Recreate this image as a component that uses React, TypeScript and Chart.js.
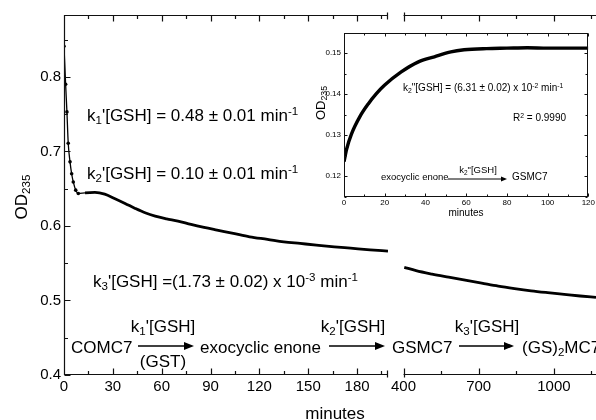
import React, { useEffect, useRef } from 'react';
import { Chart, registerables } from 'chart.js';

Chart.register(...registerables);

// ---------- data ----------
const leftMinutes = [0, 1, 1.8, 2.6, 3.7, 4.7, 5.7, 7.2, 8.8, 12.9, 19, 25, 31, 37.5, 43.7, 49.8, 56, 63, 70, 78, 86, 94, 104, 114, 125, 135, 145, 155, 166, 176, 188, 199];
const leftOD = [0.841, 0.79, 0.753, 0.711, 0.686, 0.67, 0.659, 0.648, 0.6436, 0.6444, 0.6449, 0.6426, 0.6369, 0.6302, 0.6235, 0.6176, 0.6131, 0.6095, 0.6065, 0.602, 0.598, 0.5944, 0.59, 0.5854, 0.582, 0.5787, 0.5765, 0.5743, 0.572, 0.5702, 0.568, 0.5662];
const rightMinutes = [403, 450, 514, 580, 646, 712, 778, 843, 909, 975, 1041, 1105, 1168];
const rightOD = [0.5445, 0.54, 0.5354, 0.5313, 0.5273, 0.5233, 0.5193, 0.516, 0.513, 0.5105, 0.5082, 0.506, 0.5042];
const insetMinutes = [0, 1.3, 3.7, 7.8, 11.9, 15.9, 20, 28.1, 36.3, 44.4, 52.5, 59, 70, 80, 90, 100, 110, 120];
const insetOD = [0.1235, 0.1266, 0.1303, 0.1345, 0.1376, 0.1401, 0.1422, 0.1454, 0.1478, 0.1491, 0.1503, 0.1508, 0.1511, 0.1512, 0.1513, 0.1512, 0.1512, 0.1512];

const leftXTicks = [0, 30, 60, 90, 120, 150, 180];
const leftXMinor = [15, 45, 75, 105, 135, 165, 195];
const rightXTicks = [400, 700, 1000];
const rightXMinor = [550, 850, 1150];
const mainYTicks = [0.4, 0.5, 0.6, 0.7, 0.8];
const mainYMinor = [0.45, 0.55, 0.65, 0.75, 0.85];
const insetXTicks = [0, 20, 40, 60, 80, 100, 120];
const insetXMinor = [10, 30, 50, 70, 90, 110];
const insetYTicks = [0.12, 0.13, 0.14, 0.15];
const insetYMinor = [0.115, 0.125, 0.135, 0.145];

const F = "'Liberation Sans', Arial, Helvetica, sans-serif";

// ---------- frame / inward tick plugin (per chart, closure config) ----------
function makeFrame(o: any) {
  return {
    id: 'frame',
    afterDraw(chart: any) {
      const { ctx, chartArea: a, scales } = chart;
      const L = Math.round(a.left) + 0.5, R = Math.round(a.right) - 0.5;
      const T = Math.round(a.top) + 0.5, B = Math.round(a.bottom) - 0.5;
      const xs = scales.x, ys = scales.y;
      ctx.save();
      ctx.strokeStyle = '#111';
      ctx.lineWidth = o.lw || 1.2;
      ctx.beginPath();
      ctx.moveTo(a.left, B); ctx.lineTo(a.right, B);
      ctx.moveTo(a.left, T); ctx.lineTo(a.right, T);
      if (o.left) { ctx.moveTo(L, a.top); ctx.lineTo(L, a.bottom); }
      if (o.right) { ctx.moveTo(R, a.top); ctx.lineTo(R, a.bottom); }

      const marks: number[][] = [];
      o.xMajor.forEach((v: number) => marks.push([xs.getPixelForValue(v), o.major]));
      o.xMinor.forEach((v: number) => marks.push([xs.getPixelForValue(v), o.minor]));
      for (const [px, len] of marks) {
        if (!(px >= a.left - 1 && px <= a.right + 1)) continue;
        const p = Math.round(px) + 0.5;
        ctx.moveTo(p, B); ctx.lineTo(p, B - len);
        ctx.moveTo(p, T); ctx.lineTo(p, T + len);
      }
      if (o.yMajor) {
        const ym: number[][] = [];
        o.yMajor.forEach((v: number) => ym.push([ys.getPixelForValue(v), o.major]));
        o.yMinor.forEach((v: number) => ym.push([ys.getPixelForValue(v), o.minor]));
        for (const [py, len] of ym) {
          if (!(py >= a.top && py <= a.bottom + 1)) continue;
          const p = Math.round(py) + 0.5;
          if (o.left) { ctx.moveTo(L, p); ctx.lineTo(L + len, p); }
          if (o.right) { ctx.moveTo(R, p); ctx.lineTo(R - len, p); }
        }
      }
      if (o.breakRight) {
        ctx.moveTo(R, T - 3); ctx.lineTo(R, T + 4);
        ctx.moveTo(R, B - 4); ctx.lineTo(R, B + 3);
      }
      if (o.breakLeft) {
        ctx.moveTo(L, T - 3); ctx.lineTo(L, T + 4);
        ctx.moveTo(L, B - 4); ctx.lineTo(L, B + 3);
      }
      ctx.stroke();
      ctx.restore();
    },
  };
}

const toXY = (xs: number[], ys: number[]) => xs.map((x, i) => ({ x, y: ys[i] }));

function fixedTicks(vals: number[]) {
  return (s: any) => { s.ticks = vals.map(v => ({ value: v })); };
}

function ChartCanvas({ left, top, width, height, build }: any) {
  const ref = useRef<HTMLCanvasElement>(null);
  useEffect(() => {
    const chart = new Chart(ref.current as HTMLCanvasElement, build());
    return () => chart.destroy();
  }, []);
  return (
    <canvas ref={ref} width={width} height={height}
      style={{ position: 'absolute', left, top, width, height }} />
  );
}

const mainDataset = (xs: number[], ys: number[], early: boolean) => ({
  data: toXY(xs, ys),
  borderColor: '#000',
  backgroundColor: '#000',
  borderWidth: 2.8,
  cubicInterpolationMode: 'monotone',
  pointRadius: (c: any) => (early && c.raw && c.raw.x <= 9 ? 1.8 : 0),
  pointBorderWidth: 0,
  segment: early ? { borderWidth: (c: any) => (c.p0.parsed.x < 9 ? 1.3 : 2.8) } : undefined,
});

const tickFont = { family: F, size: 15 };
const plainLabel = (v: any) => String(v);

function buildLeft() {
  return {
    type: 'line',
    data: { datasets: [mainDataset(leftMinutes, leftOD, true)] },
    plugins: [makeFrame({ left: true, breakRight: true, xMajor: leftXTicks, xMinor: leftXMinor, yMajor: mainYTicks, yMinor: mainYMinor, major: 6, minor: 3.5 })],
    options: {
      responsive: false, animation: false,
      layout: { padding: { top: 15, right: 8, left: 0, bottom: 0 } },
      plugins: { legend: { display: false }, tooltip: { enabled: false } },
      scales: {
        x: {
          type: 'linear', min: 0, max: 199,
          grid: { display: false, drawTicks: false }, border: { display: false },
          afterBuildTicks: fixedTicks(leftXTicks),
          afterFit: (s: any) => { s.height = 45; },
          ticks: { padding: 3, font: tickFont, color: '#000', maxRotation: 0, autoSkip: false, callback: plainLabel },
        },
        y: {
          type: 'linear', min: 0.4, max: 0.883,
          grid: { display: false, drawTicks: false }, border: { display: false },
          afterBuildTicks: fixedTicks(mainYTicks),
          afterFit: (s: any) => { s.width = 64; },
          ticks: { padding: 3, font: tickFont, color: '#000', callback: (v: any) => Number(v).toFixed(1) },
        },
      },
    },
  } as any;
}

function buildRight() {
  return {
    type: 'line',
    data: { datasets: [mainDataset(rightMinutes, rightOD, false)] },
    plugins: [makeFrame({ breakLeft: true, xMajor: rightXTicks, xMinor: rightXMinor, major: 6, minor: 3.5 })],
    options: {
      responsive: false, animation: false,
      layout: { padding: { top: 15, right: 0, left: 13, bottom: 0 } },
      plugins: { legend: { display: false }, tooltip: { enabled: false } },
      scales: {
        x: {
          type: 'linear', min: 400, max: 1168,
          grid: { display: false, drawTicks: false }, border: { display: false },
          afterBuildTicks: fixedTicks(rightXTicks),
          afterFit: (s: any) => { s.height = 45; },
          ticks: { padding: 3, font: tickFont, color: '#000', maxRotation: 0, autoSkip: false, callback: plainLabel },
        },
        y: { type: 'linear', min: 0.4, max: 0.883, display: false },
      },
    },
  } as any;
}

function buildInset() {
  const f = { family: F, size: 8 };
  return {
    type: 'line',
    data: {
      datasets: [{
        data: toXY(insetMinutes, insetOD), borderColor: '#000', borderWidth: 3.4,
        cubicInterpolationMode: 'monotone', pointRadius: 0,
      }],
    },
    plugins: [makeFrame({ left: true, right: true, lw: 1, xMajor: insetXTicks, xMinor: insetXMinor, yMajor: insetYTicks, yMinor: insetYMinor, major: 3, minor: 2 })],
    options: {
      responsive: false, animation: false,
      layout: { padding: { top: 8, right: 6, left: 0, bottom: 0 } },
      plugins: { legend: { display: false }, tooltip: { enabled: false } },
      scales: {
        x: {
          type: 'linear', min: 0, max: 120,
          grid: { display: false, drawTicks: false }, border: { display: false },
          afterBuildTicks: fixedTicks(insetXTicks),
          afterFit: (s: any) => { s.height = 28; },
          ticks: { padding: 1, font: f, color: '#000', maxRotation: 0, autoSkip: false, callback: plainLabel },
        },
        y: {
          type: 'linear', min: 0.1149, max: 0.1549,
          grid: { display: false, drawTicks: false }, border: { display: false },
          afterBuildTicks: fixedTicks(insetYTicks),
          afterFit: (s: any) => { s.width = 44; },
          ticks: { padding: 3, font: f, color: '#000', callback: (v: any) => Number(v).toFixed(2) },
        },
      },
    },
  } as any;
}

// ---------- text helpers ----------
const Sub = ({ c }: any) => <span style={{ fontSize: '0.68em', verticalAlign: '-0.3em', lineHeight: 0 }}>{c}</span>;
const Sup = ({ c }: any) => <span style={{ fontSize: '0.68em', verticalAlign: '0.5em', lineHeight: 0 }}>{c}</span>;

function Label({ x, y, size, anchor = 'left', rotate = false, children }: any) {
  const tx = anchor === 'center' ? '-50%' : anchor === 'right' ? '-100%' : '0';
  return (
    <div style={{
      position: 'absolute', left: x, top: y,
      transform: `translate(${tx}, -50%)${rotate ? ' rotate(-90deg)' : ''}`,
      transformOrigin: rotate ? 'center' : undefined,
      fontSize: size, lineHeight: 1, whiteSpace: 'nowrap', fontFamily: F, color: '#000',
    }}>{children}</div>
  );
}

function Arrow({ x1, x2, y, head, hw, w }: any) {
  return (
    <g>
      <line x1={x1} y1={y} x2={x2 - head + 1} y2={y} stroke="#000" strokeWidth={w} />
      <polygon points={`${x2},${y} ${x2 - head},${y - hw} ${x2 - head},${y + hw}`} fill="#000" />
    </g>
  );
}

export default function App() {
  return (
    <div style={{ position: 'fixed', left: 0, top: 0, width: 596, height: 420, overflow: 'hidden', background: '#fff' }}>
      <ChartCanvas left={0} top={0} width={396} height={420} build={buildLeft} />
      <ChartCanvas left={388} top={0} width={208} height={420} build={buildRight} />
      <ChartCanvas left={300} top={25} width={296} height={200} build={buildInset} />

      <svg width={596} height={420} style={{ position: 'absolute', left: 0, top: 0 }}>
        <Arrow x1={138} x2={194} y={346} head={10} hw={4} w={1.6} />
        <Arrow x1={329} x2={385} y={346} head={10} hw={4} w={1.6} />
        <Arrow x1={459} x2={514} y={346} head={10} hw={4} w={1.6} />
        <Arrow x1={448} x2={507} y={179} head={6} hw={2.5} w={1} />
      </svg>

      <Label x={21} y={197} size={17} anchor="center" rotate>OD<Sub c="235" /></Label>
      <Label x={335} y={413} size={17} anchor="center">minutes</Label>

      <Label x={87} y={115} size={17}>k<Sub c="1" />'[GSH] = 0.48 ± 0.01 min<Sup c="-1" /></Label>
      <Label x={87} y={173} size={17}>k<Sub c="2" />'[GSH] = 0.10 ± 0.01 min<Sup c="-1" /></Label>
      <Label x={93} y={281} size={17}>k<Sub c="3" />'[GSH] =(1.73 ± 0.02) x 10<Sup c="-3" /> min<Sup c="-1" /></Label>

      <Label x={71} y={347} size={17}>COMC7</Label>
      <Label x={163} y={326} size={17} anchor="center">k<Sub c="1" />'[GSH]</Label>
      <Label x={163} y={361} size={17} anchor="center">(GST)</Label>
      <Label x={200} y={347} size={17}>exocyclic enone</Label>
      <Label x={353} y={326} size={17} anchor="center">k<Sub c="2" />'[GSH]</Label>
      <Label x={392} y={347} size={17}>GSMC7</Label>
      <Label x={487} y={326} size={17} anchor="center">k<Sub c="3" />'[GSH]</Label>
      <Label x={522} y={347} size={17}>(GS)<Sub c="2" />MC7</Label>

      <Label x={320} y={103} size={13} anchor="center" rotate>OD<Sub c="235" /></Label>
      <Label x={466} y={213} size={10} anchor="center">minutes</Label>
      <Label x={403} y={88} size={10}>k<Sub c="2" />"[GSH] = (6.31 ± 0.02) x 10<Sup c="-2" /> min<Sup c="-1" /></Label>
      <Label x={513} y={118} size={10}>R<Sup c="2" /> = 0.9990</Label>
      <Label x={381} y={177} size={9.5}>exocyclic enone</Label>
      <Label x={478} y={170} size={9.5} anchor="center">k<Sub c="2" />"[GSH]</Label>
      <Label x={512} y={177} size={10}>GSMC7</Label>
    </div>
  );
}
